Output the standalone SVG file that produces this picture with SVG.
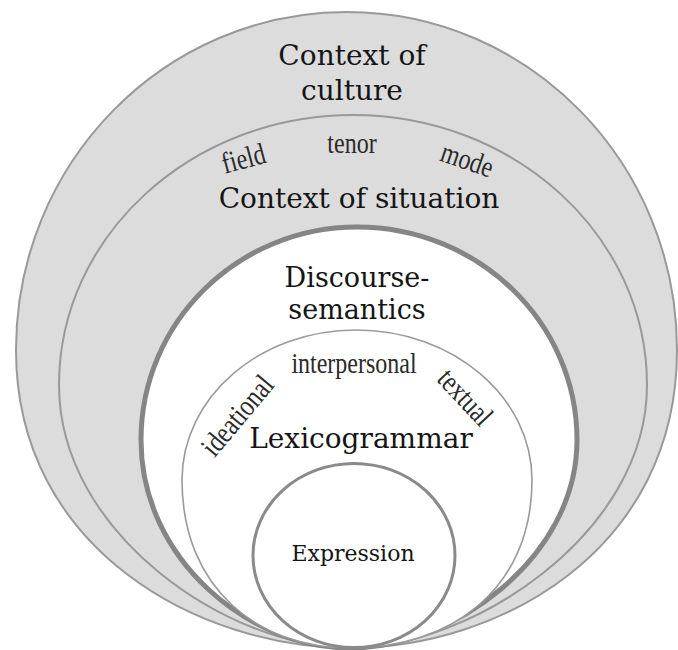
<svg xmlns="http://www.w3.org/2000/svg" width="678" height="650" viewBox="0 0 678 650">
<style>
.ring{stroke:#999999;stroke-width:2}
.gray{fill:#dcdcdc}
.white{fill:#ffffff}
.thick{stroke:#858585;stroke-width:5}
.thin{stroke:#9a9a9a;stroke-width:1.6}
.expr{stroke:#8a8a8a;stroke-width:3}
.title{font-family:"DejaVu Serif","Liberation Serif",serif;fill:#151515;text-anchor:middle}
.sub{font-family:"Liberation Serif","DejaVu Serif",serif;font-size:30px;fill:#2a2a2a;text-anchor:middle}
</style>
<rect width="678" height="650" fill="#ffffff"/>
<g id="culture">
<path class="ring gray" d="M16,350 C16,163 164,12 347,12 C529,12 677,163 677,350 C677,550 500,648 350,648 C200,648 16,550 16,350 Z"/>
<text class="title" font-size="28" x="352" y="65">Context of</text>
<text class="title" font-size="28" x="352" y="100">culture</text>
</g>
<g id="situation">
<path class="ring gray" d="M59,385 C59,236 191,115 353,115 C515,115 647,236 647,385 C647,535 470,648 350,648 C230,648 59,535 59,385 Z"/>
<text class="sub" transform="translate(246,168) rotate(-15) scale(0.8,1)">field</text>
<text class="sub" transform="translate(352,153) scale(0.8,1)">tenor</text>
<text class="sub" transform="translate(464,169) rotate(19) scale(0.8,1)">mode</text>
<text class="title" font-size="28" x="359" y="208">Context of situation</text>
</g>
<g id="discourse-semantics">
<path class="thick white" d="M141,440 C141,322 238,227 357,227 C478,227 577,322 577,440 C577,560 450,648 350,648 C250,648 141,560 141,440 Z"/>
<text class="title" font-size="27" x="357" y="287">Discourse-</text>
<text class="title" font-size="27" x="357" y="319">semantics</text>
</g>
<g id="lexicogrammar">
<path class="thin white" d="M182,480 C182,397 260,330 356,330 C453,330 532,397 532,480 C532,590 450,648 350,648 C260,648 182,590 182,480 Z"/>
<text class="sub" transform="translate(354,373) scale(0.8,1)">interpersonal</text>
<text class="sub" transform="translate(245,422) rotate(-50) scale(0.8,1)">ideational</text>
<text class="sub" transform="translate(458,404) rotate(47) scale(0.8,1)">textual</text>
<text class="title" font-size="28" x="361" y="448">Lexicogrammar</text>
</g>
<g id="expression">
<ellipse class="expr white" cx="354" cy="555.5" rx="101" ry="92"/>
<text class="title" font-size="22" x="353" y="561">Expression</text>
</g>
</svg>
